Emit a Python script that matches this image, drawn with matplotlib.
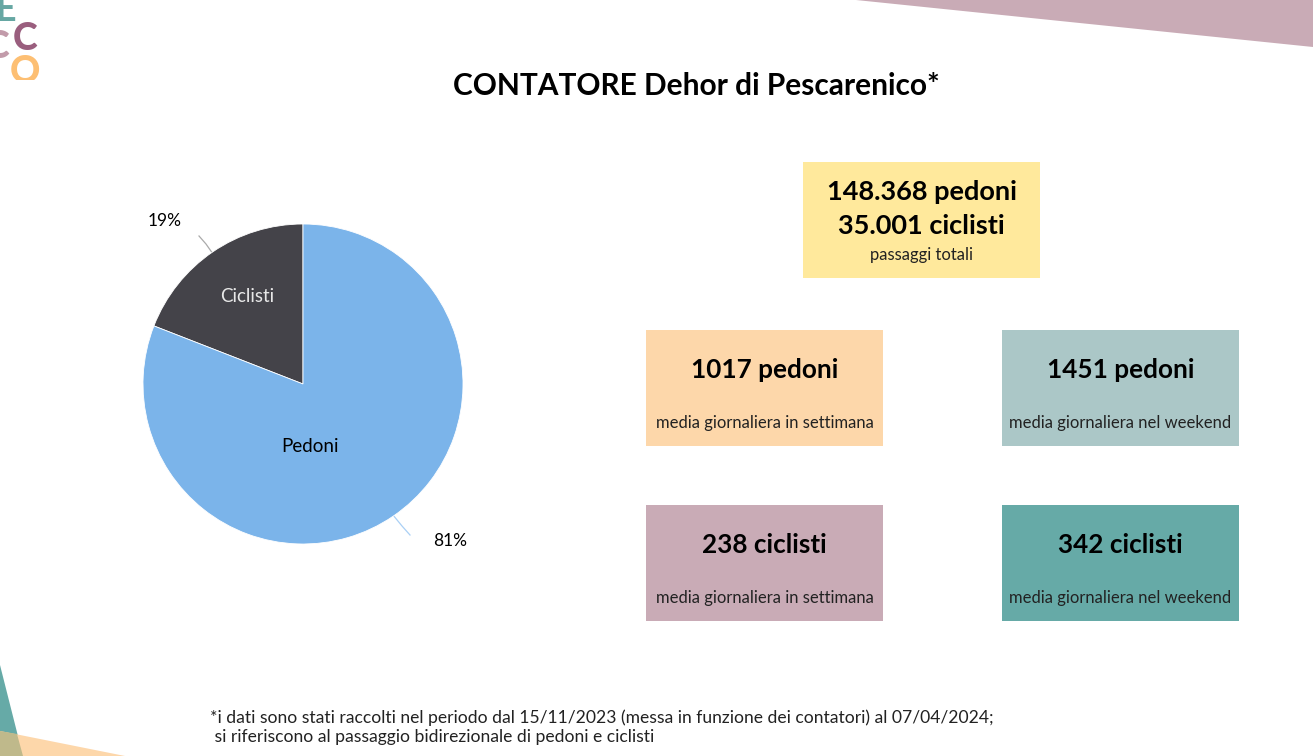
import matplotlib.pyplot as plt
from matplotlib.patches import Rectangle, Polygon

# data
categories = ['Ciclisti', 'Pedoni']
totals = [35001, 148368]
pie_colors = ['#444349', '#7BB4EA']

title = 'CONTATORE Dehor di Pescarenico*'
box_titles = ['148.368 pedoni\n35.001 ciclisti', '1017 pedoni', '1451 pedoni',
              '238 ciclisti', '342 ciclisti']
box_subtitles = ['passaggi totali', 'media giornaliera in settimana',
                 'media giornaliera nel weekend', 'media giornaliera in settimana',
                 'media giornaliera nel weekend']
box_colors = ['#FFE99C', '#FDD7AA', '#ABC7C7', '#C9ABB6', '#66AAA7']
footnote = ('*i dati sono stati raccolti nel periodo dal 15/11/2023 (messa in funzione dei contatori) al 07/04/2024;\n'
            ' si riferiscono al passaggio bidirezionale di pedoni e ciclisti')

W, H = 1313, 756
plt.rcParams['font.family'] = ['Lato', 'DejaVu Sans']

fig = plt.figure(figsize=(W / 100, H / 100), dpi=100)
bg = fig.add_axes([0, 0, 1, 1])
bg.set_xlim(0, W)
bg.set_ylim(H, 0)
bg.axis('off')

# decorations
bg.add_patch(Polygon([(856, 0), (W, 0), (W, 47)], color='#C9ABB6', lw=0))
bg.add_patch(Polygon([(0, 665), (23, H), (0, H)], color='#66AAA7', lw=0))
bg.add_patch(Polygon([(0, 731), (125, H), (0, H)], color='#FDD7AA', lw=0))
bg.add_patch(Polygon([(0, 731), (17, 734), (23, H), (0, H)], color='#BFB98B', lw=0))
logo = dict(fontweight='black', ha='center', va='center', fontsize=27)
bg.text(5, 10, 'E', color='#66A7A3', **logo)
bg.text(-3, 47, 'C', color='#C29BAA', **logo)
bg.text(25, 39, 'C', color='#9A5E7E', **logo)
bg.text(25, 72, 'O', color='#FDBF73', **logo)
bg.add_patch(Rectangle((0, 80), 70, 40, color='white', lw=0, zorder=5))

# title
bg.text(696, 86, title, fontsize=21.5, fontweight='bold', ha='center', va='center')

# boxes
box_pos = [(803, 162), (646, 330), (1002, 330), (646, 505), (1002, 505)]
bw, bh = 237, 116
for i, (x, y) in enumerate(box_pos):
    bg.add_patch(Rectangle((x, y), bw, bh, color=box_colors[i], lw=0))
    if i == 0:
        bg.text(x + bw / 2, y + 47, box_titles[i], fontsize=19.5, fontweight='bold',
                ha='center', va='center', linespacing=1.45)
        bg.text(x + bw / 2, y + 93, box_subtitles[i], fontsize=12,
                ha='center', va='center', color='#222222')
    else:
        bg.text(x + bw / 2, y + 40, box_titles[i], fontsize=18.8, fontweight='bold',
                ha='center', va='center')
        bg.text(x + bw / 2, y + 93, box_subtitles[i], fontsize=12,
                ha='center', va='center', color='#222222')

# footnote
bg.text(210, 727, footnote, fontsize=12.6, ha='left', va='center',
        linespacing=1.25, color='#222222')

# pie
ax = fig.add_axes([143 / W, 1 - 544 / H, 320 / W, 320 / H])
wedges, texts = ax.pie(totals, colors=pie_colors, startangle=90, counterclock=True,
                       labels=categories, labeldistance=0.55,
                       wedgeprops=dict(edgecolor='white', linewidth=0.6))
ax.set_xlim(-1, 1)
ax.set_ylim(-1, 1)
texts[0].set_color('#e8e8e8')
texts[0].set_position((-0.35, 0.55))
texts[1].set_position((0.045, -0.39))
for t in texts:
    t.set_fontsize(13.5)
    t.set_ha('center')
    t.set_va('center')
ax.set_aspect('equal')

# percentage labels with leader lines
pct = [round(100 * v / sum(totals)) for v in totals]
bg.plot([199, 206, 213], [236, 244, 254], color='#aaaaaa', lw=0.9)
bg.text(165, 221, f'{pct[0]}%', fontsize=12.5, ha='center', va='center')
bg.plot([393, 402, 410], [515, 526, 535], color='#aad0f5', lw=0.9)
bg.text(450, 541, f'{pct[1]}%', fontsize=12.5, ha='center', va='center')

fig.savefig('out.png', dpi=100)
